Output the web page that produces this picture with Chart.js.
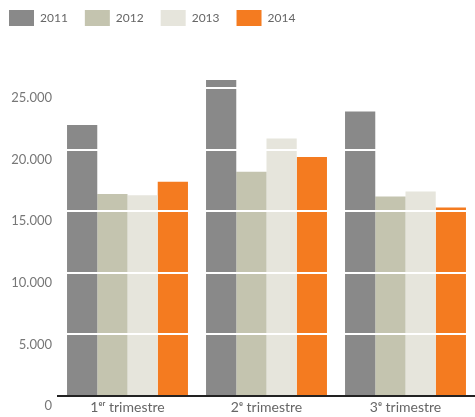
<!DOCTYPE html>
<html>
<head>
<meta charset="utf-8">
<script src="https://cdn.jsdelivr.net/npm/chart.js@4/dist/chart.umd.min.js"></script>
<style>
  body { margin: 0; background: #fff; }
  #wrap { width: 475px; height: 417px; }
</style>
</head>
<body>
<div id="wrap"><canvas id="chart"></canvas></div>
<script>
const trimestres = ["1ᵉʳ trimestre", "2ᵉ trimestre", "3ᵉ trimestre"];
const annees = ["2011", "2012", "2013", "2014"];
const couleurs = ["#898989", "#c4c4af", "#e6e5dc", "#f47b20"];

const v2011 = [22000, 25650, 23100];
const v2012 = [16400, 18200, 16200];
const v2013 = [16300, 20900, 16600];
const v2014 = [17400, 19400, 15300];

const yTicks = [0, 5000, 10000, 15000, 20000, 25000];

function formatNombre(n) {
    return String(n).replace(/\B(?=(\d{3})+(?!\d))/g, ".");
}

const series = [v2011, v2012, v2013, v2014];

const ctx = document.getElementById("chart");

new Chart(ctx, {
    type: "bar",
    data: {
        labels: trimestres,
        datasets: annees.map((a, i) => ({
            label: a,
            data: series[i],
            backgroundColor: couleurs[i],
            borderWidth: 0,
            barPercentage: 1,
            categoryPercentage: 0.87
        }))
    },
    options: {
        responsive: true,
        maintainAspectRatio: false,
        animation: false,
        layout: {
            padding: { left: -8, top: -7, right: 0, bottom: -3 }
        },
        plugins: {
            tooltip: { enabled: false },
            legend: {
                position: "top",
                align: "start",
                labels: {
                    boxWidth: 25,
                    boxHeight: 16,
                    padding: 17,
                    color: "#666",
                    font: { family: "Lato", size: 12 }
                }
            }
        },
        scales: {
            x: {
                afterFit: axis => {
                    axis.height = 24;
                },
                grid: { display: false, drawTicks: false },
                border: { display: true, color: "#222", width: 2, z: 2 },
                ticks: {
                    padding: 3,
                    color: "#666",
                    font: { family: "Lato", size: 14 }
                }
            },
            y: {
                min: 0,
                max: 29220,
                afterBuildTicks: axis => {
                    axis.ticks = yTicks.map(v => ({ value: v }));
                },
                afterFit: axis => {
                    axis.width = 66;
                },
                grid: {
                    z: 1,
                    drawTicks: false,
                    lineWidth: 2,
                    color: c => (c.tick && c.tick.value === 0) ? "rgba(0,0,0,0)" : "#fff"
                },
                border: { display: false },
                ticks: {
                    padding: 6,
                    labelOffset: 10,
                    color: "#777",
                    font: { family: "Lato", size: 13 },
                    callback: v => formatNombre(v)
                }
            }
        }
    }
});
</script>
</body>
</html>
